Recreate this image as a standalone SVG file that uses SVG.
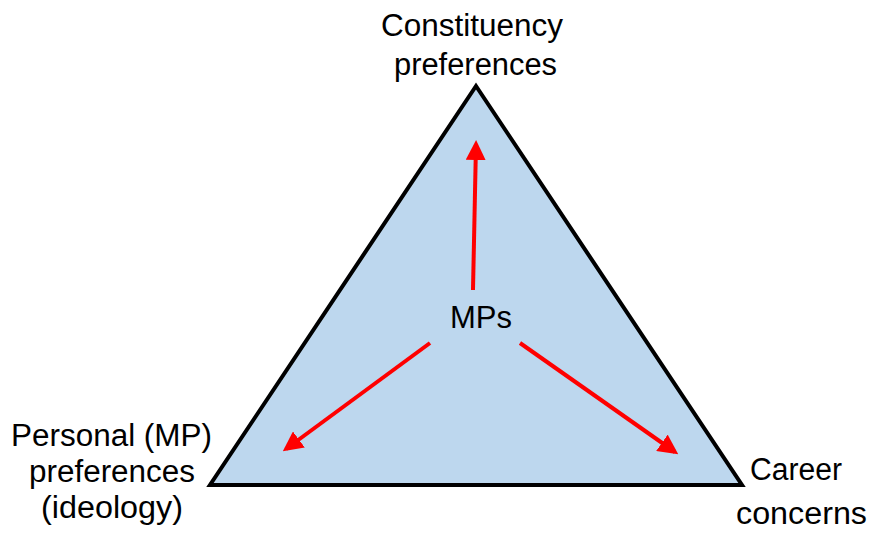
<svg xmlns="http://www.w3.org/2000/svg" width="872" height="537" viewBox="0 0 872 537">
<defs>
<style>
.lbl{font-family:"Liberation Sans",Arial,sans-serif;font-size:31px;fill:#000}
.arr{stroke:#FF0000;stroke-width:4;fill:none;marker-end:url(#ah)}
</style>
<marker id="ah" markerWidth="5" markerHeight="5" refX="4" refY="2.5" orient="auto" markerUnits="strokeWidth">
<path d="M0,0 L5,2.5 L0,5 Z" fill="#FF0000"/>
</marker>
</defs>
<rect width="872" height="537" fill="#FFFFFF"/>
<g id="triangle">
<polygon points="476,86 210,485 742,485" fill="#BDD7EE" stroke="#000" stroke-width="4" stroke-linejoin="miter"/>
</g>
<g id="mps"><text class="lbl" x="450" y="328" textLength="62" lengthAdjust="spacingAndGlyphs">MPs</text></g>
<g id="constituency"><text class="lbl" x="381" y="36" textLength="182" lengthAdjust="spacingAndGlyphs">Constituency</text><text class="lbl" x="394" y="75" textLength="163" lengthAdjust="spacingAndGlyphs">preferences</text></g>
<g id="personal"><text class="lbl" x="11" y="446" textLength="201" lengthAdjust="spacingAndGlyphs">Personal (MP)</text><text class="lbl" x="29" y="482" textLength="166" lengthAdjust="spacingAndGlyphs">preferences</text><text class="lbl" x="41" y="518" textLength="142" lengthAdjust="spacingAndGlyphs">(ideology)</text></g>
<g id="career"><text class="lbl" x="750" y="480" textLength="92" lengthAdjust="spacingAndGlyphs">Career</text><text class="lbl" x="736" y="524" textLength="131" lengthAdjust="spacingAndGlyphs">concerns</text></g>
<g id="connectors">
<line class="arr" x1="473" y1="290" x2="476" y2="144"/>
<line class="arr" x1="430" y1="343" x2="286" y2="449"/>
<line class="arr" x1="520" y1="343" x2="675" y2="452"/>
</g>
</svg>
